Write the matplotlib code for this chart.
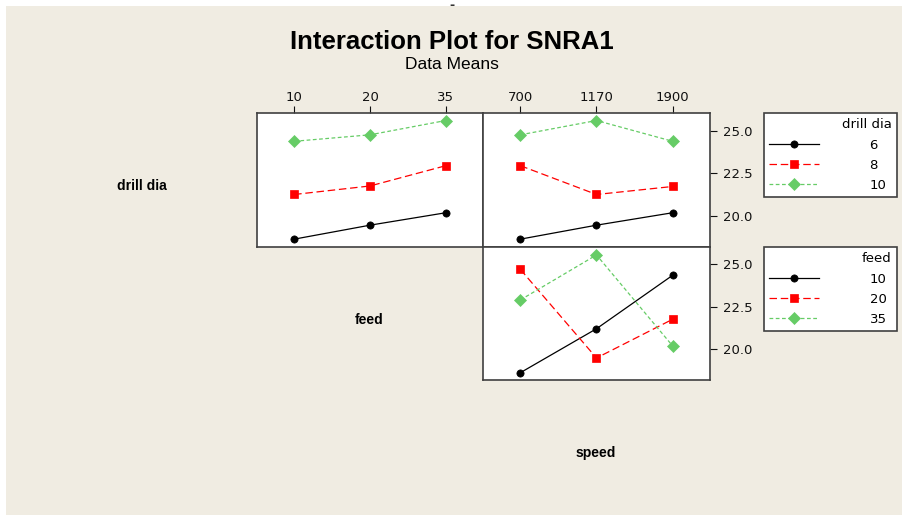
import matplotlib
matplotlib.use("Agg")
import matplotlib.pyplot as plt
from matplotlib.patches import Rectangle

# ---- data ----
feed_levels = ["10", "20", "35"]
speed_levels = ["700", "1170", "1900"]
drill_levels = ["6", "8", "10"]

dia_by_feed_6 = [18.63, 19.45, 20.18]
dia_by_feed_8 = [21.25, 21.75, 22.94]
dia_by_feed_10 = [24.37, 24.75, 25.59]

dia_by_speed_6 = [18.63, 19.45, 20.18]
dia_by_speed_8 = [22.94, 21.25, 21.72]
dia_by_speed_10 = [24.75, 25.59, 24.37]

feed_by_speed_10 = [18.60, 21.20, 24.36]
feed_by_speed_20 = [24.71, 19.47, 21.76]
feed_by_speed_35 = [22.90, 25.56, 20.18]

y_ticks = [20.0, 22.5, 25.0]
y_lim = (18.17, 26.03)

# ---- styles ----
BG = "#F0ECE2"
FRAME = "#404040"
styles = [
    dict(color="black", linestyle="-", marker="o", markersize=5.2),
    dict(color="#FF0000", linestyle=(0, (6, 3)), marker="s", markersize=5.4),
    dict(color="#66CC66", linestyle=(0, (3, 2)), marker="D", markersize=5.8),
]

W, H = 903, 522
fig = plt.figure(figsize=(W / 100, H / 100), dpi=100)
fig.patch.set_facecolor("white")
fig.add_artist(Rectangle((6 / W, 7 / H), (W - 6) / W, (H - 13) / H,
                         transform=fig.transFigure, facecolor=BG,
                         edgecolor="none", zorder=-10))


def px_axes(x0, y0, x1, y1):
    return fig.add_axes([x0 / W, 1 - y1 / H, (x1 - x0) / W, (y1 - y0) / H])


def style_ax(ax):
    ax.set_facecolor("white")
    for s in ax.spines.values():
        s.set_color(FRAME)
        s.set_linewidth(1.2)
    ax.set_xlim(-0.49, 2.49)
    ax.set_ylim(*y_lim)
    ax.tick_params(colors="#111111", labelsize=9.5, length=5, width=0.8,
                   direction="out")
    ax.tick_params(axis="x", bottom=False, labelbottom=False, pad=1.5)
    ax.tick_params(axis="y", left=False, labelleft=False, pad=4.5)


def draw(ax, levels, series_list):
    xs = list(range(len(levels)))
    lines = []
    for vals, st in zip(series_list, styles):
        ln, = ax.plot(xs, vals, linewidth=0.9, markeredgewidth=0.5,
                      markeredgecolor=st["color"], **st)
        lines.append(ln)
    return lines


ax1 = px_axes(257, 113, 483, 247)
ax2 = px_axes(483, 113, 710, 247)
ax3 = px_axes(483, 247, 710, 380)
for ax in (ax1, ax2, ax3):
    style_ax(ax)

lines_dia = draw(ax1, feed_levels, [dia_by_feed_6, dia_by_feed_8, dia_by_feed_10])
draw(ax2, speed_levels, [dia_by_speed_6, dia_by_speed_8, dia_by_speed_10])
lines_feed = draw(ax3, speed_levels, [feed_by_speed_10, feed_by_speed_20, feed_by_speed_35])

for ax, levels in ((ax1, feed_levels), (ax2, speed_levels)):
    ax.set_xticks(range(len(levels)))
    ax.set_xticklabels(levels)
    ax.tick_params(axis="x", top=True, labeltop=True)

for ax in (ax2, ax3):
    ax.set_yticks(y_ticks)
    ax.set_yticklabels([f"{v:.1f}" for v in y_ticks])
    ax.tick_params(axis="y", right=True, labelright=True)

# ---- text ----
fig.text(452 / W, 1 - 5 / H, "-", ha="center", va="center", fontsize=9,
         fontweight="bold", color="#333333")
fig.text(452 / W, 1 - 42 / H, "Interaction Plot for SNRA1", ha="center",
         va="center", fontsize=18.5, fontweight="bold",
         family=["Liberation Sans", "DejaVu Sans"])
fig.text(452 / W, 1 - 65 / H, "Data Means", ha="center", va="center",
         fontsize=12.5, family=["Liberation Sans", "DejaVu Sans"])
for txt, x, y in (("drill dia", 142, 186), ("feed", 369, 320), ("speed", 596, 453)):
    fig.text(x / W, 1 - y / H, txt, ha="center", va="center", fontsize=10,
             fontweight="bold", family=["Liberation Sans", "DejaVu Sans"])


def make_legend(handles, labels, title, x0, y0, x1, y1):
    leg = fig.legend(handles, labels, title=title, loc="upper left",
                     bbox_to_anchor=(x0 / W, 1 - y1 / H, (x1 - x0) / W, (y1 - y0) / H),
                     mode="expand", alignment="right", frameon=True,
                     fancybox=False, edgecolor=FRAME, facecolor="white",
                     fontsize=9.5, title_fontsize=9.5, numpoints=1,
                     handlelength=3.8, handletextpad=3.8, labelspacing=0.55,
                     borderpad=0.4, borderaxespad=0)
    leg.get_frame().set_linewidth(1.2)
    leg.get_frame().set_alpha(None)
    return leg


make_legend(lines_dia, drill_levels, "drill dia", 764, 113, 897, 196)
make_legend(lines_feed, feed_levels, "feed", 764, 247, 897, 328)

fig.savefig("out.png", dpi=100, facecolor=fig.get_facecolor())
